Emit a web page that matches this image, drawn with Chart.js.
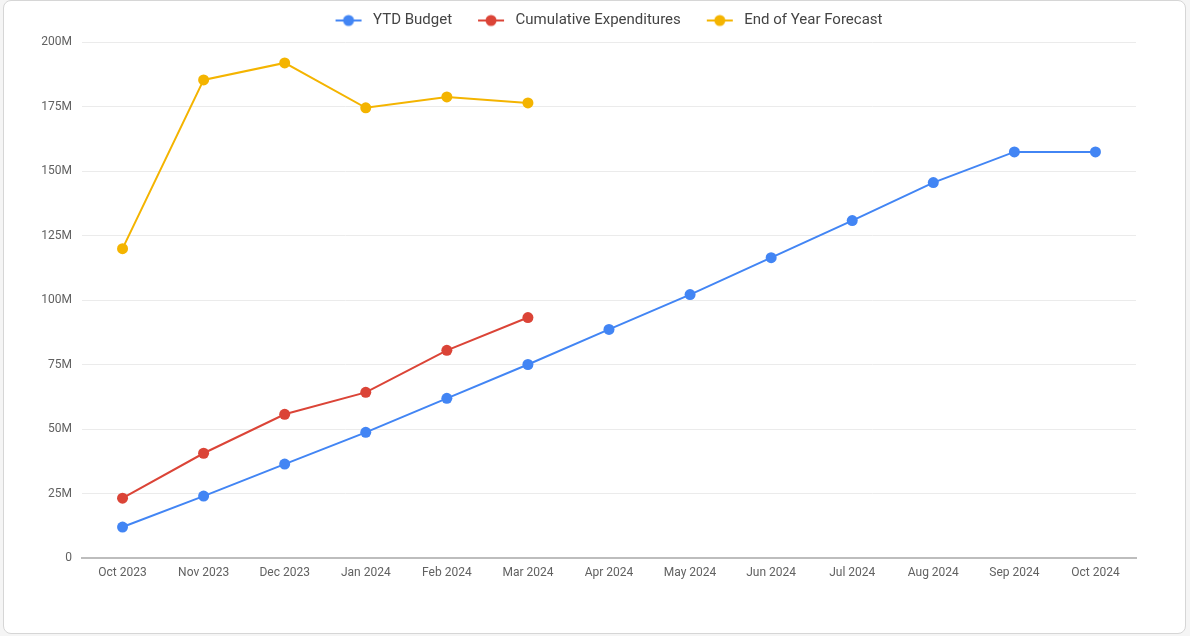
<!DOCTYPE html>
<html>
<head>
<meta charset="utf-8">
<script src="https://cdn.jsdelivr.net/npm/chart.js@4"></script>
<style>
  html, body { margin: 0; padding: 0; background: #f5f5f5; }
  .card {
    position: absolute; left: 3px; top: 0; width: 1181px; height: 632px;
    background: #fff; border: 1px solid #d6d6d6; border-radius: 8px;
  }
  #wrap { position: absolute; left: 0; top: 0; width: 1190px; height: 636px; }
</style>
</head>
<body>
<div class="card"></div>
<div id="wrap"><canvas id="chart" width="1190" height="636"></canvas></div>
<script>
// datos (millones)
const months = ['Oct 2023', 'Nov 2023', 'Dec 2023', 'Jan 2024', 'Feb 2024', 'Mar 2024',
  'Apr 2024', 'May 2024', 'Jun 2024', 'Jul 2024', 'Aug 2024', 'Sep 2024', 'Oct 2024'];
const ytdBudget = [12.0, 24.0, 36.4, 48.7, 61.9, 75.0, 88.6, 102.1, 116.4, 130.8, 145.5, 157.4, 157.4];
const cumulativeExp = [23.2, 40.6, 55.7, 64.2, 80.5, 93.2];
const eoyForecast = [119.9, 185.3, 191.9, 174.5, 178.7, 176.4];
const yTicks = [0, 25, 50, 75, 100, 125, 150, 175, 200];

const BLUE = '#4285f4', RED = '#db4437', YELLOW = '#f4b400';

// icono de leyenda: linea con punto (hueco a la izquierda para separar items)
function legendIcon(color) {
  const c = document.createElement('canvas');
  c.width = 46; c.height = 14;
  const g = c.getContext('2d');
  g.strokeStyle = color; g.lineWidth = 2;
  g.beginPath(); g.moveTo(16, 7); g.lineTo(42, 7); g.stroke();
  g.fillStyle = color;
  g.beginPath(); g.arc(29, 7, 5.5, 0, Math.PI * 2); g.fill();
  return c;
}

function serie(label, data, color) {
  return {
    label: label,
    data: data,
    borderColor: color,
    backgroundColor: color,
    borderWidth: 2,
    pointRadius: 5.5,
    pointHoverRadius: 6,
    pointBorderWidth: 0,
    pointStyle: 'circle',
    tension: 0
  };
}

const datasets = [
  serie('YTD Budget', ytdBudget, BLUE),
  serie('Cumulative Expenditures', cumulativeExp, RED),
  serie('End of Year Forecast', eoyForecast, YELLOW)
];
const icons = [legendIcon(BLUE), legendIcon(RED), legendIcon(YELLOW)];

// un poco mas de espacio bajo la leyenda, y compensar el hueco del primer icono
const legendGap = {
  id: 'legendGap',
  afterInit: function (chart) {
    const lg = chart.legend;
    const fit = lg.fit;
    const draw = lg.draw;
    lg.fit = function () { fit.call(this); this.height += 4; };
    lg.draw = function () {
      this.ctx.save();
      this.ctx.translate(-8, 0);
      draw.apply(this, arguments);
      this.ctx.restore();
    };
  }
};

new Chart(document.getElementById('chart'), {
  type: 'line',
  data: { labels: months, datasets: datasets },
  plugins: [legendGap],
  options: {
    responsive: false,
    animation: false,
    layout: { padding: { left: 0, right: 54, top: 3, bottom: 48 } },
    plugins: {
      tooltip: { enabled: false },
      legend: {
        position: 'top',
        fullSize: false,
        labels: {
          usePointStyle: true,
          pointStyleWidth: 46,
          padding: 10,
          color: '#444',
          font: { family: 'Roboto', size: 15 },
          generateLabels: function (chart) {
            return chart.data.datasets.map(function (ds, i) {
              return {
                text: ds.label,
                pointStyle: icons[i],
                fillStyle: ds.borderColor,
                strokeStyle: ds.borderColor,
                lineWidth: 0,
                fontColor: '#444',
                hidden: false,
                datasetIndex: i
              };
            });
          }
        }
      }
    },
    scales: {
      x: {
        offset: true,
        grid: { display: false, drawTicks: false },
        border: { color: '#bdbdbd', width: 2 },
        ticks: { color: '#616161', padding: 8, maxRotation: 0, autoSkip: false,
          font: { family: 'Roboto', size: 12 } },
        afterFit: function (s) { s.height = 30; }
      },
      y: {
        min: 0, max: 200,
        afterBuildTicks: function (s) { s.ticks = yTicks.map(function (v) { return { value: v }; }); },
        grid: { color: '#ebebeb', drawTicks: false },
        border: { display: false },
        ticks: {
          color: '#616161', padding: 10,
          font: { family: 'Roboto', size: 12 },
          callback: function (v) { return v === 0 ? '0' : v + 'M'; }
        },
        afterFit: function (s) { s.width = 82; }
      }
    }
  }
});
</script>
</body>
</html>
